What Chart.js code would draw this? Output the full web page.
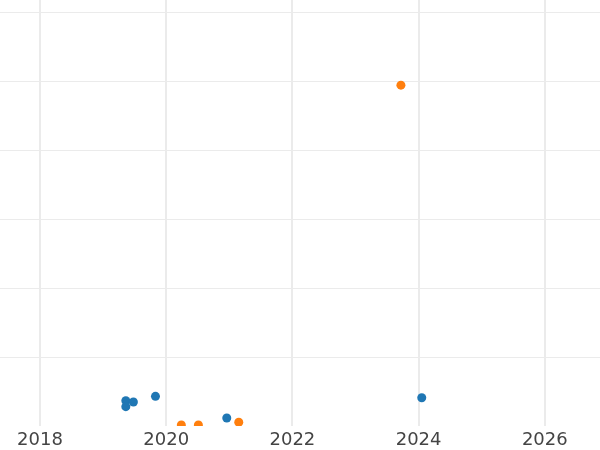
<!DOCTYPE html>
<html>
<head>
<meta charset="utf-8">
<script src="https://cdn.jsdelivr.net/npm/chart.js@4"></script>
<style>
  html, body { margin: 0; padding: 0; background: #fff; }
  #wrap { width: 600px; height: 450px; }
</style>
</head>
<body>
<div id="wrap"><canvas id="graph"></canvas></div>
<script>
// --- data
var blueX = [2019.36, 2019.36, 2019.48, 2019.83, 2020.96, 2024.05];
var blueY = [0.367, 0.280, 0.348, 0.430, 0.116, 0.410];
var orangeX = [2020.24, 2020.51, 2021.15, 2023.72];
var orangeY = [0.014, 0.014, 0.054, 4.94];
var xTicks = [2018, 2020, 2022, 2024, 2026];
var yTicks = [1, 2, 3, 4, 5, 6];

function toPoints(xs, ys) {
    var pts = [];
    for (var i = 0; i < xs.length; i++) {
        pts.push({ x: xs[i], y: ys[i] });
    }
    return pts;
}

new Chart(document.getElementById('graph'), {
    type: 'scatter',
    data: {
        datasets: [{
            label: 'blue',
            data: toPoints(blueX, blueY),
            backgroundColor: '#1f77b4',
            pointRadius: 4.5,
            pointBorderWidth: 0,
            clip: 0
        }, {
            label: 'orange',
            data: toPoints(orangeX, orangeY),
            backgroundColor: '#ff7f0e',
            pointRadius: 4.5,
            pointBorderWidth: 0,
            clip: 0
        }]
    },
    options: {
        responsive: true,
        maintainAspectRatio: false,
        animation: false,
        events: [],
        layout: { padding: 0, autoPadding: false },
        plugins: {
            legend: { display: false },
            tooltip: { enabled: false }
        },
        scales: {
            x: {
                type: 'linear',
                min: 2017.366,
                max: 2026.875,
                afterBuildTicks: function (axis) {
                    axis.ticks = xTicks.map(function (v) { return { value: v }; });
                },
                afterFit: function (axis) { axis.height = 24; },
                grid: { color: '#ebebeb', lineWidth: 2, drawTicks: false },
                border: { display: false },
                ticks: {
                    padding: 5,
                    color: '#444',
                    font: { family: 'DejaVu Sans', size: 18, lineHeight: 1 },
                    maxRotation: 0,
                    callback: function (v) { return String(v); }
                }
            },
            y: {
                type: 'linear',
                min: 0,
                max: 6.174,
                afterBuildTicks: function (axis) {
                    axis.ticks = yTicks.map(function (v) { return { value: v }; });
                },
                grid: { color: '#ebebeb', lineWidth: 1, drawTicks: false },
                border: { display: false },
                ticks: { display: false }
            }
        }
    }
});
</script>
</body>
</html>
